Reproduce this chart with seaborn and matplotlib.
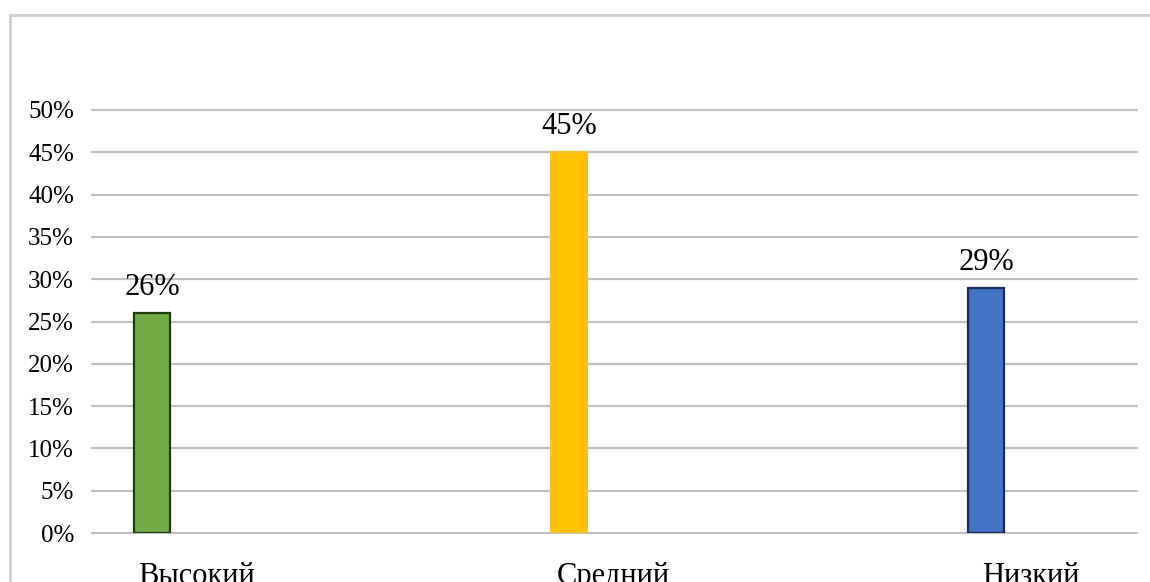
import numpy as np
import pandas as pd
import matplotlib
matplotlib.use("Agg")
import matplotlib.pyplot as plt
from matplotlib.patches import Rectangle
from matplotlib.ticker import PercentFormatter
import seaborn as sns

# data
levels = ["Высокий", "Средний", "Низкий"]
shares = [0.26, 0.45, 0.29]
fill_colors = ["#70ad47", "#ffc000", "#4472c4"]
edge_colors = ["#1e3a0f", "#f0c030", "#1a2c5a"]

df = pd.DataFrame({"level": levels, "share": shares})

sns.set_style("white")
plt.rcParams["font.family"] = ["Liberation Serif", "DejaVu Serif"]
plt.rcParams["text.color"] = "black"
plt.rcParams["xtick.color"] = "black"
plt.rcParams["ytick.color"] = "black"

fig = plt.figure(figsize=(11.5, 5.82), dpi=100)
ax = fig.add_axes([92 / 1150, 1 - 533 / 582, (1137 - 92) / 1150, (533 - 110) / 582])

sns.barplot(data=df, x="level", y="share", hue="level", palette=fill_colors,
            saturation=1, legend=False, width=0.086, ax=ax, zorder=3)

for cont, ec in zip(ax.containers, edge_colors):
    for bar in cont:
        bar.set_edgecolor(ec)
        bar.set_linewidth(1.6)
    ax.bar_label(cont, labels=[f"{v:.0%}" for v in cont.datavalues],
                 padding=8, fontsize=22, color="black")

ax.set_ylim(0, 0.5)
ax.set_yticks(np.arange(0, 0.51, 0.05))
ax.yaxis.set_major_formatter(PercentFormatter(1, decimals=0))
ax.tick_params(axis="y", labelsize=18, length=0, pad=13)

# category labels sit a bit to the right of the bars
ax.set_xlim(-0.144, 2.362)
ax.set_xticks(np.arange(len(levels)) + 0.107)
ax.set_xticklabels(levels, fontsize=22)
ax.tick_params(axis="x", length=0, pad=21)
ax.set_xlabel("")
ax.set_ylabel("")

ax.grid(axis="y", color="#c0c0c0", linewidth=1.6, zorder=0)
for line in ax.get_ygridlines():
    line.set_clip_on(False)
sns.despine(ax=ax, left=True, bottom=True)

# outer chart frame (cropped at right and bottom)
fig.patches.append(Rectangle((10 / 1150, -0.2), 1.2, 1.2 - 15 / 582,
                             transform=fig.transFigure, fill=False,
                             edgecolor="#cfcfcf", linewidth=2))

fig.savefig("out.png", dpi=100)
